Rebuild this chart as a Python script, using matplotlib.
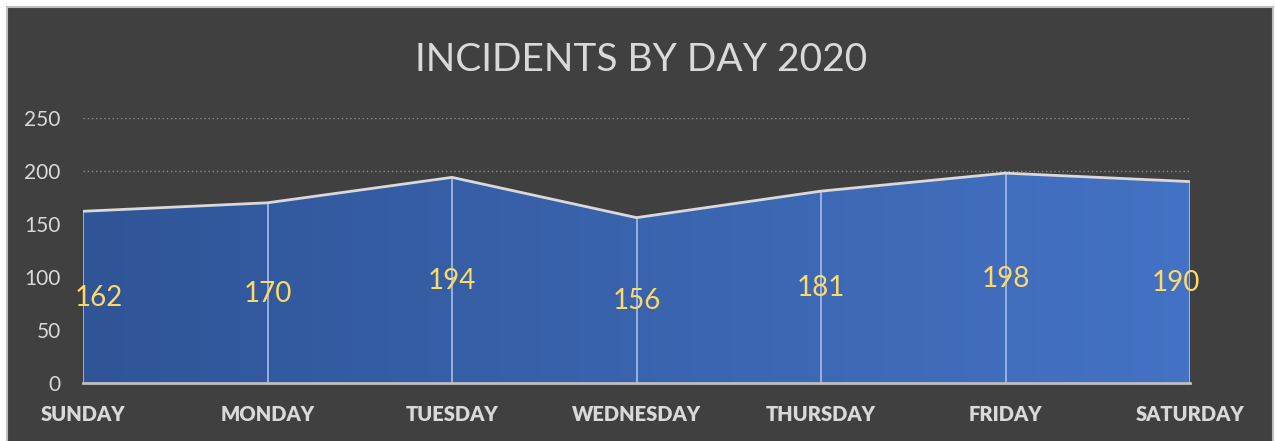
import matplotlib
matplotlib.use("Agg")
import matplotlib.pyplot as plt
import numpy as np
from matplotlib.patches import Rectangle, Polygon
from matplotlib.colors import LinearSegmentedColormap

days = ["SUNDAY", "MONDAY", "TUESDAY", "WEDNESDAY", "THURSDAY", "FRIDAY", "SATURDAY"]
incidents = [162, 170, 194, 156, 181, 198, 190]
yticks = [0, 50, 100, 150, 200, 250]

plt.rcParams['font.family'] = ['Lato', 'DejaVu Sans']

W, H = 1276, 441
fig = plt.figure(figsize=(W / 100, H / 100), dpi=100, facecolor="white")
fig.patches.append(Rectangle((7 / W, -0.01), (1273 - 7) / W, (H - 7) / H + 0.01,
                             transform=fig.transFigure, facecolor="#404040",
                             edgecolor="#BFBFBF", linewidth=1.5, zorder=-10))

ax = fig.add_axes([83 / W, 1 - 383 / H, (1190 - 83) / W, (383 - 118) / H])
ax.set_facecolor("none")
x = np.arange(len(days))
ax.set_xlim(0, len(days) - 1)
ax.set_ylim(0, 250)

# gridlines
for yv in yticks[1:]:
    ax.axhline(yv, color="#8C8C8C", linestyle=(0, (1, 2)), linewidth=1, zorder=1)

# gradient area
cmap = LinearSegmentedColormap.from_list("g", ["#2F5597", "#4472C4"])
grad = np.linspace(0, 1, 256).reshape(1, -1)
im = ax.imshow(grad, cmap=cmap, extent=[0, len(days) - 1, 0, 250], aspect="auto", zorder=2)
verts = [(0, 0)] + list(zip(x, incidents)) + [(len(days) - 1, 0)]
poly = Polygon(verts, closed=True, facecolor="none", edgecolor="none", transform=ax.transData)
ax.add_patch(poly)
im.set_clip_path(poly)

# drop lines
for xi, v in zip(x, incidents):
    ax.plot([xi, xi], [0, v], color="#A9BEE6", linewidth=1.2, zorder=3, solid_capstyle="butt")
# top line
ax.plot(x, incidents, color="#D9D9D9", linewidth=2, zorder=4, solid_joinstyle="round")
ax.plot([0, len(days) - 1], [0, 0], color="#BFBFBF", linewidth=2, zorder=4, clip_on=False)

# data labels
for xi, v in zip(x, incidents):
    ha = "center"
    xx = xi
    if xi == 0:
        ha = "left"
        xx = -0.045
    elif xi == len(days) - 1:
        ha = "right"
        xx = len(days) - 1 + 0.055
    ax.text(xx, v / 2 - 1, str(v), color="#FFD966", fontsize=20, ha=ha, va="center", zorder=5)

for s in ax.spines.values():
    s.set_visible(False)
ax.set_yticks(yticks)
ax.set_yticklabels([str(t) for t in yticks], color="#D9D9D9", fontsize=15)
ax.set_xticks(x)
ax.set_xticklabels(days, color="#D9D9D9", fontsize=14.5, fontweight="heavy")
ax.tick_params(axis="y", length=0, pad=16)
ax.tick_params(axis="x", length=0, pad=16)

fig.text(641 / W, 1 - 60 / H, "INCIDENTS BY DAY 2020", color="#D9D9D9", fontsize=28,
         ha="center", va="center")

fig.savefig("out.png", dpi=100, facecolor="white")
